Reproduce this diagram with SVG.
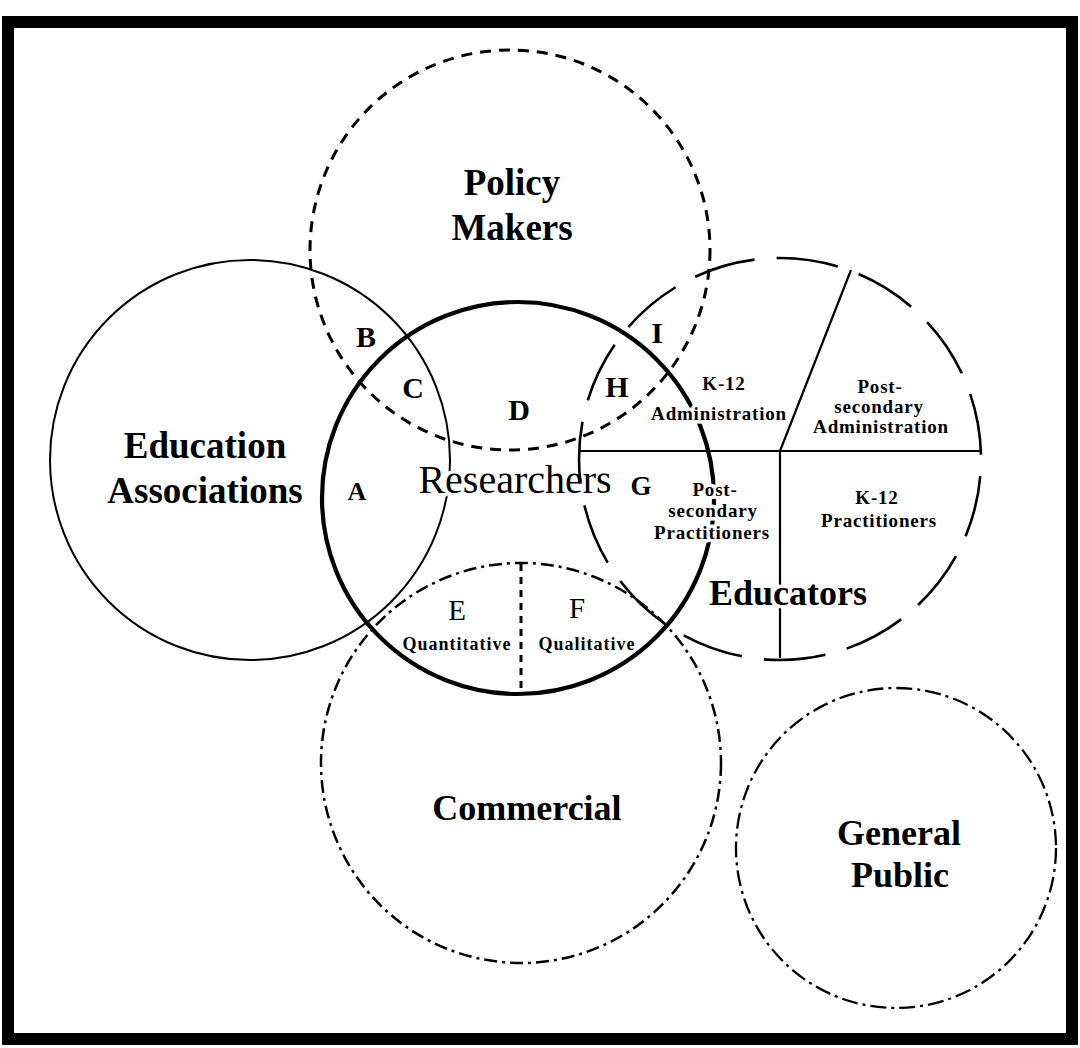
<svg xmlns="http://www.w3.org/2000/svg" width="1080" height="1048" viewBox="0 0 1080 1048">
<style>
text{font-family:"Liberation Serif","Times New Roman",serif;fill:#000;text-anchor:middle}
.big{font-weight:bold;font-size:37px}
.res{font-weight:normal;font-size:40px}
.let{font-weight:bold;font-size:30px}
.letr{font-weight:normal;font-size:29px}
.sm{font-weight:bold;font-size:19px;letter-spacing:0.8px}
.qq{font-weight:bold;font-size:18px;letter-spacing:1px}
.halo{stroke:#fff;stroke-width:7px;paint-order:stroke;stroke-linejoin:round}
.c{fill:none;stroke:#000}
.policy{stroke-width:3;stroke-dasharray:11 8}
.ea{stroke-width:2}
.researchers{stroke-width:4.2}
.commercial{stroke-width:2.5;stroke-dasharray:13 5 3 5}
.educ{stroke-width:2.6;stroke-dasharray:62 22.2;stroke-dashoffset:67}
.gp{stroke-width:2.3;stroke-dasharray:16 5 3 5}
.div{stroke-width:2.2}
</style>
<rect x="0" y="0" width="1080" height="1048" fill="#fff"/>
<rect id="frame" x="8" y="22" width="1064" height="1017" class="c" stroke-width="12"/>

<g id="policy-makers">
  <circle cx="510" cy="250" r="200" class="c policy"/>
  <text class="big" x="512" y="195">Policy</text>
  <text class="big" x="512" y="240">Makers</text>
</g>

<g id="education-associations">
  <circle cx="250" cy="460" r="200" class="c ea"/>
  <text class="big" x="205" y="458">Education</text>
  <text class="big" x="205" y="503">Associations</text>
</g>

<g id="commercial">
  <circle cx="521" cy="763" r="200" class="c commercial"/>
  <line x1="521" y1="564" x2="521" y2="692" class="c" stroke-width="3" stroke-dasharray="7 6"/>
  <text class="big" x="527" y="820" style="font-size:36px">Commercial</text>
  <text class="qq" x="457" y="650">Quantitative</text>
  <text class="qq" x="587" y="650">Qualitative</text>
</g>

<g id="researchers">
  <circle cx="518" cy="498" r="196" class="c researchers"/>
  <text class="res halo" x="515" y="493">Researchers</text>
</g>

<g id="educators">
  <circle cx="780" cy="459" r="201" class="c educ"/>
  <line x1="579" y1="451" x2="980" y2="451" class="c div"/>
  <line x1="780" y1="451" x2="780" y2="658" class="c div"/>
  <line x1="780" y1="451" x2="851" y2="270" class="c div"/>
  <text class="sm halo" x="724" y="390">K-12</text>
  <text class="sm halo" x="719" y="420">Administration</text>
  <text class="sm halo" x="880" y="393">Post-</text>
  <text class="sm halo" x="879" y="413">secondary</text>
  <text class="sm halo" x="881" y="433">Administration</text>
  <text class="sm halo" x="715" y="496">Post-</text>
  <text class="sm halo" x="713" y="517">secondary</text>
  <text class="sm halo" x="712" y="539">Practitioners</text>
  <text class="sm" x="877" y="504">K-12</text>
  <text class="sm" x="879" y="527">Practitioners</text>
  <text class="big halo" x="788" y="605" style="font-size:36px">Educators</text>
</g>

<g id="general-public">
  <circle cx="896" cy="848" r="160" class="c gp"/>
  <text class="big" x="899" y="845" style="font-size:36px">General</text>
  <text class="big" x="900" y="887" style="font-size:36px">Public</text>
</g>

<g id="region-labels">
  <text class="let" x="366" y="347">B</text>
  <text class="let" x="413" y="398">C</text>
  <text class="let" x="519" y="420">D</text>
  <text class="let" x="657" y="343">I</text>
  <text class="let" x="617" y="397">H</text>
  <text class="let" x="357" y="500" style="font-size:26px">A</text>
  <text class="let" x="641" y="495" style="font-size:27px">G</text>
  <text class="letr" x="457" y="620">E</text>
  <text class="letr" x="577" y="618">F</text>
</g>
</svg>
